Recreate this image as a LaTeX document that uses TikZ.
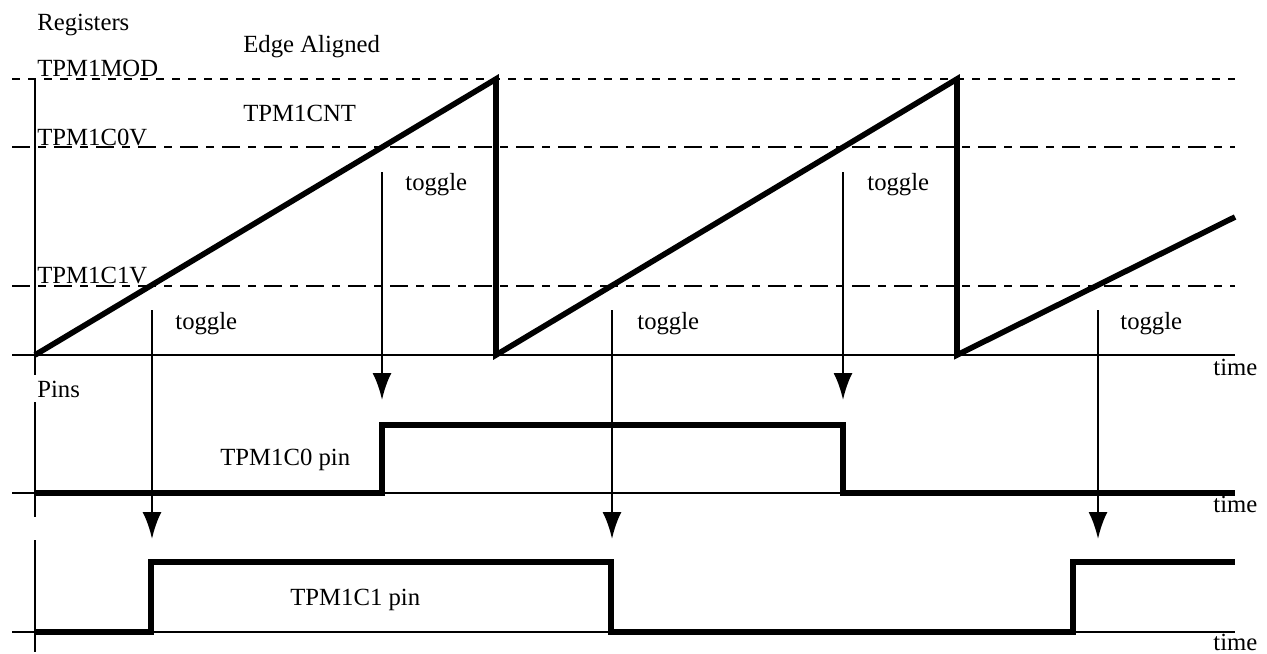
\documentclass[tikz,border=0pt]{standalone}
\usepackage{fontspec}
\setmainfont{Liberation Serif}
\usetikzlibrary{arrows.meta}
\tikzset{
  axis/.style={line width=1.4pt},
  wave/.style={line width=2.6pt, line join=miter},
  ramp/.style={line width=2.8pt, line join=miter},
  modline/.style={line width=1.3pt, dash pattern=on 4pt off 4pt},
  cmpline/.style={line width=1.3pt, dash pattern=on 9pt off 4pt on 4pt off 4pt},
  tog/.style={line width=1.4pt, -{Latex[length=13.5pt,width=9.5pt]}},
  lbl/.style={anchor=base west, inner sep=0pt, font=\fontsize{12.35}{14}\selectfont},
}

\begin{document}
\begin{tikzpicture}[x=0.5pt,y=-0.5pt]
\useasboundingbox (0,0) rectangle (1267,653);
% register levels
\draw[modline] (12,79) -- (1235,79);
\draw[cmpline] (12,147) -- (1235,147);
\draw[cmpline] (12,286) -- (1235,286);
% axes
\draw[axis] (35,78) -- (35,375);
\draw[axis] (35,402) -- (35,517);
\draw[axis] (35,540) -- (35,652);
\draw[axis] (12,355) -- (1235,355);
\draw[axis] (12,493) -- (1235,493);
\draw[axis] (12,632) -- (1235,632);

\node[lbl] (regs) at (37,30) {Registers};
\node[lbl] (edge) at (243,52) {Edge Aligned};
\node[lbl] (mod) at (37,76) {TPM1MOD};
\node[lbl] (cnt) at (243,121) {TPM1CNT};
\node[lbl] (cov) at (37,145) {TPM1C0V};
\node[lbl] (c1v) at (37,283) {TPM1C1V};
\node[lbl] (pins) at (37,397) {Pins};
\node[lbl] (pinA) at (220,465) {TPM1C0 pin};
\node[lbl] (pinB) at (290,605) {TPM1C1 pin};
\foreach \x/\y/\n in {405/190/a, 867/190/b, 175/329/c, 637/329/d, 1120/329/e}
  \node[lbl] (tg\n) at (\x,\y) {toggle};
\foreach \y/\n in {375/a, 512/b, 650/c}
  \node[lbl] (time\n) at (1213,\y) {time};

% counter
\draw[ramp] (35,355) -- (496,79) -- (496,355) -- (957,79) -- (957,355) -- (1235,217);

% compare events
\coordinate (e0a) at (382,172);  \coordinate (p0a) at (382,400);
\coordinate (e0b) at (843,172);  \coordinate (p0b) at (843,400);
\coordinate (e1a) at (152,310);  \coordinate (p1a) at (152,539);
\coordinate (e1b) at (612,310);  \coordinate (p1b) at (612,539);
\coordinate (e1c) at (1098,310); \coordinate (p1c) at (1098,539);
\foreach \n in {0a,0b,1a,1b,1c}
  \draw[tog] (e\n) -- (p\n);

% pins
\draw[wave] (35,493) -- (382,493) -- (382,425) -- (843,425) -- (843,493) -- (1235,493);
\draw[wave] (35,632) -- (151,632) -- (151,562) -- (611,562) -- (611,632) -- (1073,632) -- (1073,562) -- (1235,562);
\end{tikzpicture}
\end{document}
